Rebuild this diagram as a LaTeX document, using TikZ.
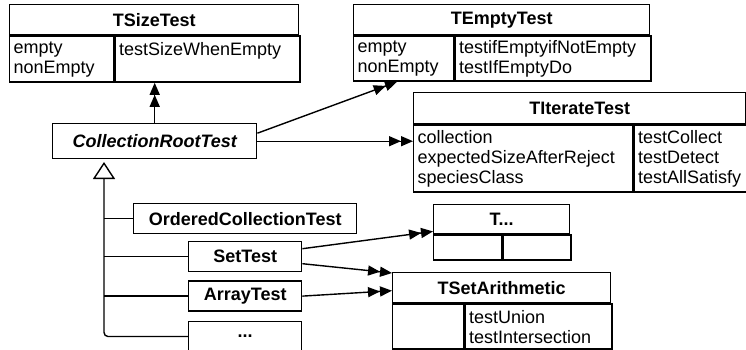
\documentclass[tikz,border=0pt]{standalone}
\usepackage{fontspec}
\setmainfont{Liberation Sans}
\usetikzlibrary{positioning}
\usetikzlibrary{arrows.meta}

\begin{document}
\begin{tikzpicture}[x=1pt, y=-1pt, line width=1.4pt,
    every node/.style = {font=\fontsize{18}{20}\selectfont},
    head/.style = {draw, anchor=north west, minimum height=30pt, inner sep=0pt, font=\fontsize{18}{20}\selectfont\bfseries},
    cmp/.style = {draw, anchor=north west, align=left, inner xsep=4pt, inner ysep=0pt},
    sub/.style = {draw, minimum height=30pt, inner sep=0pt, font=\fontsize{18}{20}\selectfont\bfseries},
    dbl/.style = {-{Triangle[length=12pt,width=10pt]Triangle[length=12pt,width=10pt]}}]
    \useasboundingbox (0,0) rectangle (746,349);

    % test traits
    \node[head, minimum width=289pt](sizeT) at (9,4) {TSizeTest};
    \node[cmp, text width=96pt, minimum height=46pt](sizeTa) at (sizeT.south west) {empty\\nonEmpty};
    \node[cmp, text width=177pt, minimum height=46pt](sizeTm) at (sizeTa.north east) {testSizeWhenEmpty\\\mbox{}};

    \node[head, minimum width=296pt](emptyT) at (353,4) {TEmptyTest};
    \node[cmp, text width=92pt, minimum height=45pt](emptyTa) at (emptyT.south west) {empty\\nonEmpty};
    \node[cmp, text width=188pt, minimum height=45pt](emptyTm) at (emptyTa.north east) {testifEmptyifNotEmpty\\testIfEmptyDo};

    \node[head, minimum width=332pt, minimum height=31pt](iterT) at (413,92) {TIterateTest};
    \node[cmp, text width=211pt, minimum height=67pt](iterTa) at (iterT.south west) {collection\\expectedSizeAfterReject\\speciesClass};
    \node[cmp, text width=105pt, minimum height=67pt](iterTm) at (iterTa.north east) {testCollect\\testDetect\\testAllSatisfy};

    \node[head, minimum width=136pt, minimum height=29pt](dotsT) at (433,204) {T...};
    \node[cmp, text width=60pt, minimum height=25pt](dotsTa) at (dotsT.south west) {};
    \node[cmp, text width=60pt, minimum height=25pt](dotsTm) at (dotsTa.north east) {};

    \node[head, minimum width=218pt](arithT) at (392,272) {TSetArithmetic};
    \node[cmp, text width=63pt, minimum height=45pt](arithTa) at (arithT.south west) {};
    \node[cmp, text width=139pt, minimum height=45pt](arithTm) at (arithTa.north east) {testUnion\\testIntersection};

    % test classes
    \node[draw, anchor=north west, minimum width=204pt, minimum height=35pt, inner sep=0pt,
          font=\fontsize{18}{20}\selectfont\bfseries\itshape](root) at (52,123) {CollectionRootTest};
    \node[sub, anchor=north west, minimum width=223pt](ordered) at (133,203) {OrderedCollectionTest};
    \node[sub, anchor=north west, minimum width=113pt](set) at (188,241) {SetTest};
    \node[sub, minimum width=113pt](array)[below=8pt of set] {ArrayTest};
    \node[sub, minimum width=113pt](more)[below=9pt of array] {...};

    % inheritance
    \coordinate (hook) at (104,162);
    \draw[-{Triangle[open,length=17pt,width=22pt]}, rounded corners=4pt] (more.west) -| (hook);
    \draw (ordered.west) -- (ordered.west -| hook);
    \draw (set.west) -- (set.west -| hook);
    \draw (array.west) -- (array.west -| hook);

    % trait use
    \draw[dbl] (root.north) -- (root.north |- sizeTm.south);
    \draw[dbl] ([yshift=8pt]root.east) -- ([xshift=44pt]emptyTa.south west);
    \draw[dbl] (root.east) -- (root.east -| iterTa.west);
    \draw[dbl] ([yshift=8pt]set.east) -- ([yshift=3pt]dotsT.south west);
    \draw[dbl] ([yshift=-7pt]set.east) -- ([yshift=-1pt]arithT.north west);
    \draw[dbl] (array.east) -- ([yshift=-3pt]arithT.west);
\end{tikzpicture}
\end{document}
